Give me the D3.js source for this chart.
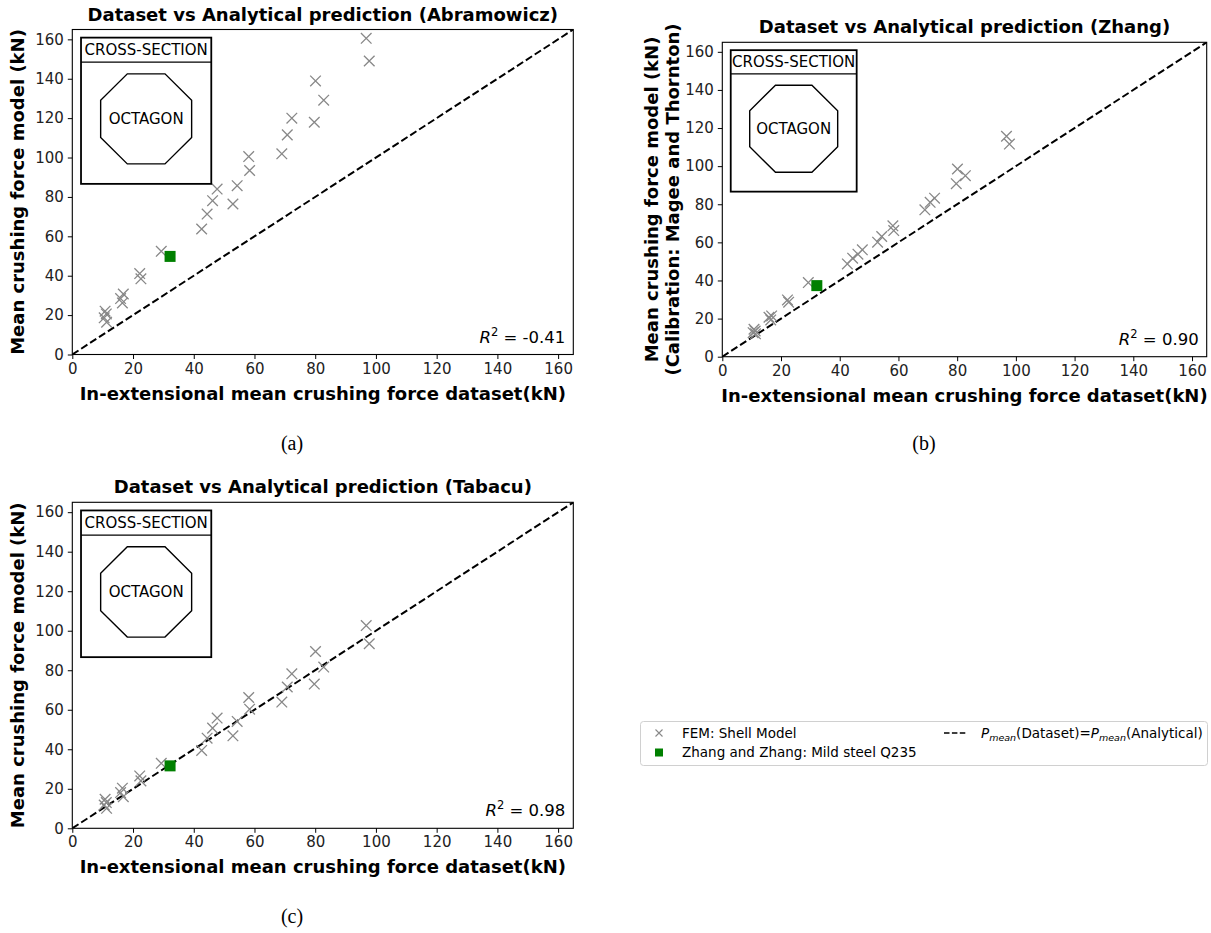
<!DOCTYPE html>
<html>
<head>
<meta charset="utf-8">
<script src="https://cdn.jsdelivr.net/npm/d3@7"></script>
<style>
body { margin: 0; background: #fff; }
svg { display: block; font-family: "DejaVu Sans", sans-serif; }
</style>
</head>
<body>
<svg id="chart" width="1211" height="933"></svg>
<script>
// ---------------- DATA ----------------
const datasetX     = [96.8, 97.8, 80.1, 82.8, 72.3, 79.7, 70.8, 69.0, 58.1, 58.4, 54.3, 47.7, 46.2, 52.9, 44.4, 42.6, 29.3, 22.2, 22.6, 16.8, 15.9, 16.5, 10.8, 11.2, 10.5, 11.3];
const abramowiczY  = [160.5, 149.0, 138.9, 129.1, 120.0, 117.9, 111.5, 101.9, 100.5, 93.4, 85.7, 84.0, 78.1, 76.4, 71.3, 63.7, 52.4, 41.1, 38.4, 30.7, 28.4, 26.2, 22.0, 20.6, 18.6, 16.4];
const zhangY       = [115.7, 111.6, 98.5, 95.0, 83.2, 90.8, 81.0, 77.1, 68.7, 66.2, 63.1, 56.1, 53.8, 60.1, 51.7, 48.7, 38.9, 29.8, 28.6, 21.4, 20.7, 19.3, 14.4, 13.5, 12.6, 12.0];
const tabacuY      = [102.6, 93.4, 89.5, 81.6, 78.2, 73.0, 71.5, 63.9, 66.2, 60.3, 54.1, 55.8, 50.7, 46.8, 45.6, 39.4, 32.9, 26.5, 24.0, 16.0, 18.1, 20.3, 14.7, 13.0, 11.8, 10.1];
const experimentX  = [32.2];
const abramowiczExp = [49.8];
const zhangExp     = [37.3];
const tabacuExp    = [31.6];
const axisDomain   = [0, 165];
const tickValues   = [0, 20, 40, 60, 80, 100, 120, 140, 160];
const panelTitles  = ["Dataset vs Analytical prediction (Abramowicz)", "Dataset vs Analytical prediction (Zhang)", "Dataset vs Analytical prediction (Tabacu)"];
const r2Values     = ["-0.41", "0.90", "0.98"];
const captions     = ["(a)", "(b)", "(c)"];
const xLabel       = "In-extensional mean crushing force dataset(kN)";
const yLabels      = [["Mean crushing force model (kN)"], ["Mean crushing force model (kN)", "(Calibration: Magee and Thornton)"], ["Mean crushing force model (kN)"]];
const legendFEM    = "FEM: Shell Model";
const legendExp    = "Zhang and Zhang: Mild steel Q235";

// ---------------- LAYOUT ----------------
const panels = [
  { left: 72.3, right: 573.3, top: 29.5, bottom: 354.5, y: abramowiczY, exp: abramowiczExp, cap: [292, 450] },
  { left: 722.3, right: 1206.7, top: 42.3, bottom: 356.7, y: zhangY, exp: zhangExp, cap: [924, 450] },
  { left: 72.3, right: 573.3, top: 502.3, bottom: 828.3, y: tabacuY, exp: tabacuExp, cap: [292, 923] }
];

const svg = d3.select("#chart");
svg.append("rect").attr("width", 1211).attr("height", 933).attr("fill", "#fff");

panels.forEach((p, i) => {
  const W = p.right - p.left, H = p.bottom - p.top;
  const x = d3.scaleLinear().domain(axisDomain).range([0, W]);
  const y = d3.scaleLinear().domain(axisDomain).range([H, 0]);
  const g = svg.append("g").attr("transform", `translate(${p.left},${p.top})`);

  const clipId = "clip" + i;
  g.append("clipPath").attr("id", clipId).append("rect").attr("width", W).attr("height", H);

  // axes
  const xa = g.append("g").attr("transform", `translate(0,${H})`)
    .call(d3.axisBottom(x).tickValues(tickValues).tickSize(4.5).tickPadding(4).tickFormat(d3.format("d")));
  const ya = g.append("g")
    .call(d3.axisLeft(y).tickValues(tickValues).tickSize(4.5).tickPadding(4).tickFormat(d3.format("d")));
  [xa, ya].forEach(a => {
    a.select(".domain").remove();
    a.selectAll("line").attr("stroke", "#000").attr("stroke-width", 1);
    a.selectAll("text").style("font-size", "15px").style("font-family", "DejaVu Sans").attr("fill", "#222");
  });

  // diagonal dashed line
  g.append("line")
    .attr("clip-path", `url(#${clipId})`)
    .attr("x1", x(axisDomain[0])).attr("y1", y(axisDomain[0]))
    .attr("x2", x(axisDomain[1])).attr("y2", y(axisDomain[1]))
    .attr("stroke", "#000").attr("stroke-width", 2).attr("stroke-dasharray", "7.4,3.2");

  // FEM crosses
  const s = 5.3;
  g.append("g").selectAll("path").data(datasetX.map((d, k) => [d, p.y[k]])).join("path")
    .attr("d", d => { const cx = x(d[0]), cy = y(d[1]); return `M${cx - s},${cy - s}L${cx + s},${cy + s}M${cx - s},${cy + s}L${cx + s},${cy - s}`; })
    .attr("stroke", "#888").attr("stroke-width", 1.3).attr("fill", "none");

  // experiment square
  const sq = 11;
  g.append("g").selectAll("rect").data(experimentX.map((d, k) => [d, p.exp[k]])).join("rect")
    .attr("x", d => x(d[0]) - sq / 2).attr("y", d => y(d[1]) - sq / 2)
    .attr("width", sq).attr("height", sq).attr("fill", "#008000");

  // frame
  g.append("rect").attr("width", W).attr("height", H).attr("fill", "none").attr("stroke", "#000").attr("stroke-width", 1.1);

  // inset cross-section box
  const bx = 0.0174 * W, by = 0.025 * H, bw = 0.26 * W, bh = 0.45 * H;
  const ins = g.append("g");
  ins.append("rect").attr("x", bx).attr("y", by).attr("width", bw).attr("height", bh)
    .attr("fill", "#fff").attr("stroke", "#000").attr("stroke-width", 1.8);
  const hh = 0.168 * bh;
  ins.append("line").attr("x1", bx).attr("x2", bx + bw).attr("y1", by + hh).attr("y2", by + hh)
    .attr("stroke", "#000").attr("stroke-width", 1.3);
  ins.append("text").attr("x", bx + bw / 2).attr("y", by + hh / 2).attr("dy", "0.36em")
    .attr("text-anchor", "middle").style("font-size", "15px").text("CROSS-SECTION");
  const ocx = bx + bw / 2, ocy = 0.275 * H;
  const rx = 0.0908 * W / Math.cos(Math.PI / 8), ry = 0.1385 * H / Math.cos(Math.PI / 8);
  const pts = d3.range(8).map(k => { const a = Math.PI / 8 + k * Math.PI / 4; return [ocx + rx * Math.cos(a), ocy + ry * Math.sin(a)]; });
  ins.append("path").attr("d", d3.line()(pts) + "Z").attr("fill", "none").attr("stroke", "#000").attr("stroke-width", 1.4);
  ins.append("text").attr("x", ocx).attr("y", ocy).attr("dy", "0.36em")
    .attr("text-anchor", "middle").style("font-size", "15px").text("OCTAGON");

  // R^2 text
  const rt = g.append("text").attr("x", W - 8).attr("y", H - 12).attr("text-anchor", "end").style("font-size", "16.5px");
  rt.append("tspan").attr("font-style", "italic").text("R");
  rt.append("tspan").style("font-size", "11.5px").attr("dy", -7).text("2");
  rt.append("tspan").attr("dy", 7).text(" = " + r2Values[i]);

  // title
  g.append("text").attr("x", W / 2).attr("y", -9).attr("text-anchor", "middle")
    .style("font-size", "18px").attr("font-weight", "bold").text(panelTitles[i]);

  // x label
  g.append("text").attr("x", W / 2).attr("y", H + 45).attr("text-anchor", "middle")
    .style("font-size", "18px").attr("font-weight", "bold").text(xLabel);

  // y label(s)
  const lines = yLabels[i];
  lines.forEach((t, li) => {
    const xpos = lines.length === 1 ? -48 : -64 + li * 21;
    g.append("text").attr("transform", `translate(${xpos},${H / 2}) rotate(-90)`)
      .attr("text-anchor", "middle").style("font-size", "18px").attr("font-weight", "bold").text(t);
  });

  // caption
  svg.append("text").attr("x", p.cap[0]).attr("y", p.cap[1]).attr("text-anchor", "middle")
    .style("font-family", "'Liberation Serif', serif").style("font-size", "20px").text(captions[i]);
});

// ---------------- LEGEND ----------------
const lg = svg.append("g");
lg.append("rect").attr("x", 640.5).attr("y", 721.5).attr("width", 567).attr("height", 44).attr("rx", 3)
  .attr("fill", "#fff").attr("stroke", "#d0d0d0").attr("stroke-width", 1);
const r1 = 733, r2 = 752.5;
lg.append("path").attr("d", `M${659 - 3.5},${r1 - 3.5}L${659 + 3.5},${r1 + 3.5}M${659 - 3.5},${r1 + 3.5}L${659 + 3.5},${r1 - 3.5}`)
  .attr("stroke", "#888").attr("stroke-width", 1.1);
lg.append("rect").attr("x", 659 - 4).attr("y", r2 - 4).attr("width", 8).attr("height", 8).attr("fill", "#008000");
lg.append("text").attr("x", 682).attr("y", r1).attr("dy", "0.36em").style("font-size", "13.5px").text(legendFEM);
lg.append("text").attr("x", 682).attr("y", r2).attr("dy", "0.36em").style("font-size", "13.5px").text(legendExp);
lg.append("line").attr("x1", 944).attr("x2", 967).attr("y1", r1).attr("y2", r1)
  .attr("stroke", "#000").attr("stroke-width", 1.6).attr("stroke-dasharray", "5.5,2.4");
const lt = lg.append("text").attr("x", 981).attr("y", r1).attr("dy", "0.36em").style("font-size", "13.5px");
lt.append("tspan").attr("font-style", "italic").text("P");
lt.append("tspan").attr("font-style", "italic").style("font-size", "9.5px").attr("dy", 3).text("mean");
lt.append("tspan").attr("dy", -3).text("(Dataset)=");
lt.append("tspan").attr("font-style", "italic").text("P");
lt.append("tspan").attr("font-style", "italic").style("font-size", "9.5px").attr("dy", 3).text("mean");
lt.append("tspan").attr("dy", -3).text("(Analytical)");
</script>
</body>
</html>
